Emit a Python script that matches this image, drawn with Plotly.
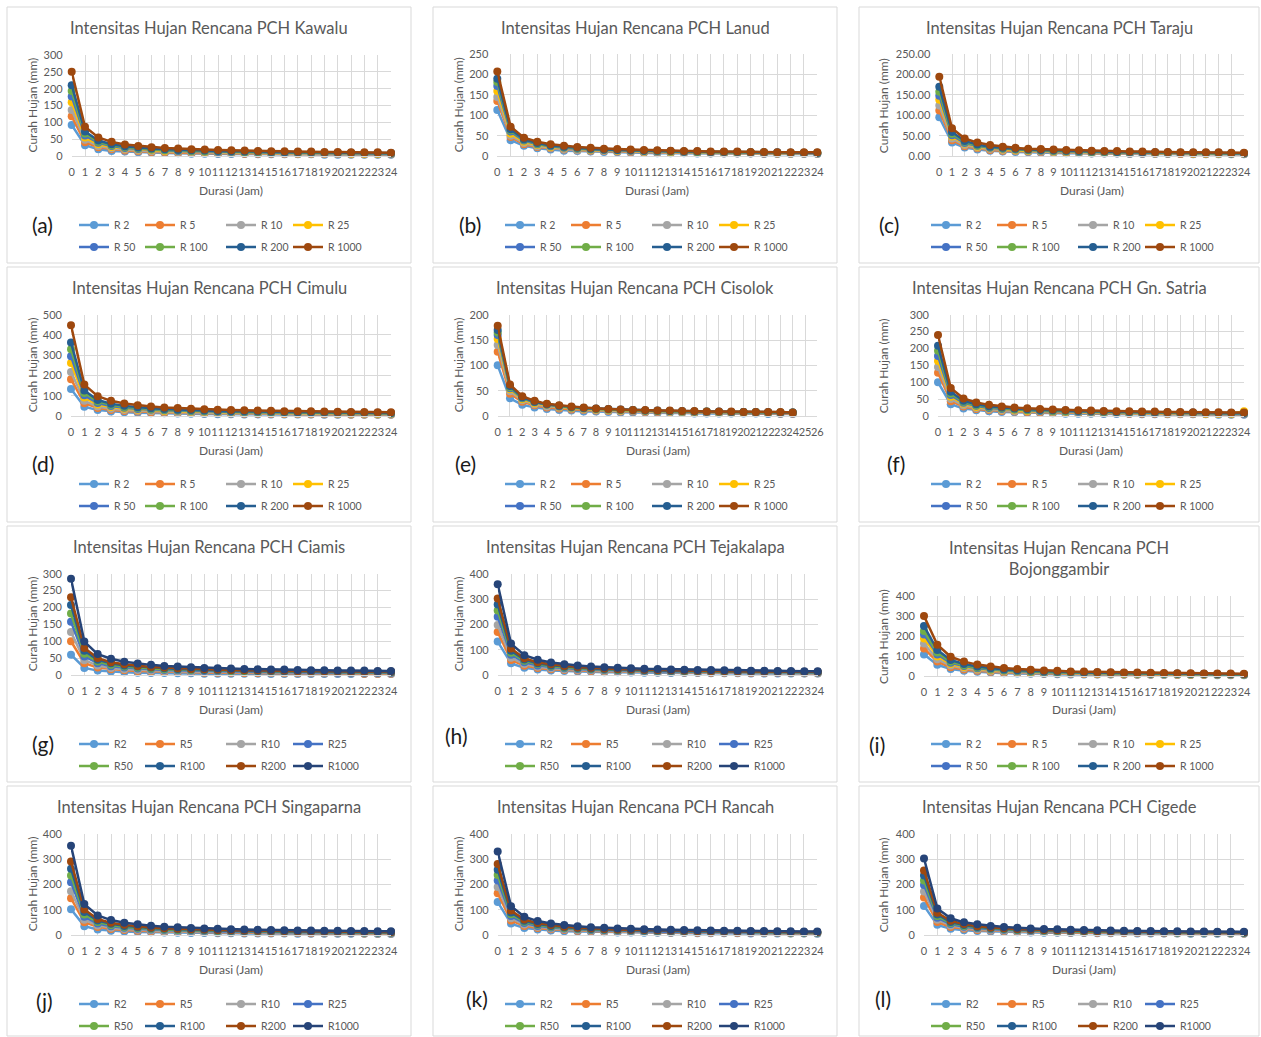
import plotly.graph_objects as go

FONT = "Lato"
TXT = "#595959"
GRID = "#D9D9D9"
W, H = 1261, 1037

hours = list(range(27))
names_a = ["R 2", "R 5", "R 10", "R 25", "R 50", "R 100", "R 200", "R 1000"]
names_b = ["R2", "R5", "R10", "R25", "R50", "R100", "R200", "R1000"]
colors_a = ["#5B9BD5", "#ED7D31", "#A5A5A5", "#FFC000", "#4472C4", "#70AD47", "#255E91", "#9E480E"]
colors_b = ["#5B9BD5", "#ED7D31", "#A5A5A5", "#4472C4", "#70AD47", "#255E91", "#9E480E", "#264478"]

kawalu = [
    [92, 32, 20, 15, 13, 11, 10, 9, 8, 7, 7, 6, 6, 6, 5, 5, 5, 5, 5, 4, 4, 4, 4, 4, 4],
    [118, 41, 26, 20, 16, 14, 12, 11, 10, 9, 9, 8, 8, 7, 7, 7, 6, 6, 6, 6, 6, 5, 5, 5, 5],
    [137, 48, 30, 23, 19, 16, 14, 13, 12, 11, 10, 10, 9, 9, 8, 8, 7, 7, 7, 7, 6, 6, 6, 6, 6],
    [160, 55, 35, 27, 22, 19, 17, 15, 14, 13, 12, 11, 11, 10, 10, 9, 9, 8, 8, 8, 8, 7, 7, 7, 7],
    [177, 61, 39, 30, 24, 21, 19, 17, 15, 14, 13, 12, 12, 11, 11, 10, 10, 9, 9, 9, 8, 8, 8, 8, 7],
    [193, 67, 42, 32, 27, 23, 20, 18, 17, 15, 14, 14, 13, 12, 12, 11, 11, 10, 10, 9, 9, 9, 9, 8, 8],
    [210, 73, 46, 35, 29, 25, 22, 20, 18, 17, 16, 15, 14, 13, 13, 12, 11, 11, 11, 10, 10, 10, 9, 9, 9],
    [250, 87, 55, 42, 34, 30, 26, 24, 22, 20, 19, 18, 17, 16, 15, 14, 14, 13, 13, 12, 12, 11, 11, 11, 10],
]
lanud = [
    [113, 39, 25, 19, 16, 13, 12, 11, 10, 9, 8, 8, 7, 7, 7, 6, 6, 6, 6, 6, 5, 5, 5, 5, 5],
    [135, 47, 29, 22, 19, 16, 14, 13, 12, 11, 10, 9, 9, 8, 8, 8, 7, 7, 7, 7, 6, 6, 6, 6, 6],
    [145, 50, 32, 24, 20, 17, 15, 14, 13, 12, 11, 10, 10, 9, 9, 8, 8, 8, 7, 7, 7, 7, 6, 6, 6],
    [160, 55, 35, 27, 22, 19, 17, 15, 14, 13, 12, 11, 11, 10, 10, 9, 9, 8, 8, 8, 8, 7, 7, 7, 7],
    [172, 60, 38, 29, 24, 20, 18, 16, 15, 14, 13, 12, 11, 11, 10, 10, 9, 9, 9, 8, 8, 8, 8, 7, 7],
    [182, 63, 40, 30, 25, 22, 19, 17, 16, 15, 14, 13, 12, 11, 11, 10, 10, 10, 9, 9, 9, 8, 8, 8, 8],
    [190, 66, 41, 32, 26, 23, 20, 18, 16, 15, 14, 13, 13, 12, 11, 11, 10, 10, 10, 9, 9, 9, 8, 8, 8],
    [208, 72, 45, 35, 29, 25, 22, 20, 18, 17, 16, 15, 14, 13, 12, 12, 11, 11, 11, 10, 10, 9, 9, 9, 9],
]
taraju = [
    [95, 33, 21, 16, 13, 11, 10, 9, 8, 8, 7, 7, 6, 6, 6, 5, 5, 5, 5, 5, 4, 4, 4, 4, 4],
    [112, 39, 24, 19, 15, 13, 12, 11, 10, 9, 8, 8, 7, 7, 7, 6, 6, 6, 6, 5, 5, 5, 5, 5, 5],
    [124, 43, 27, 21, 17, 15, 13, 12, 11, 10, 9, 9, 8, 8, 7, 7, 7, 7, 6, 6, 6, 6, 5, 5, 5],
    [138, 48, 30, 23, 19, 16, 14, 13, 12, 11, 10, 10, 9, 9, 8, 8, 8, 7, 7, 7, 6, 6, 6, 6, 6],
    [148, 51, 32, 25, 20, 18, 16, 14, 13, 12, 11, 10, 10, 9, 9, 8, 8, 8, 7, 7, 7, 7, 7, 6, 6],
    [158, 55, 35, 26, 22, 19, 17, 15, 14, 13, 12, 11, 10, 10, 9, 9, 9, 8, 8, 8, 7, 7, 7, 7, 7],
    [170, 59, 37, 28, 23, 20, 18, 16, 15, 14, 13, 12, 11, 11, 10, 10, 9, 9, 9, 8, 8, 8, 8, 7, 7],
    [195, 68, 43, 33, 27, 23, 20, 18, 17, 16, 15, 14, 13, 12, 12, 11, 11, 10, 10, 9, 9, 9, 9, 8, 8],
]
cimulu = [
    [133, 46, 29, 22, 18, 16, 14, 13, 12, 11, 10, 9, 9, 8, 8, 8, 7, 7, 7, 6, 6, 6, 6, 6, 6],
    [182, 63, 40, 30, 25, 22, 19, 17, 16, 15, 14, 13, 12, 11, 11, 10, 10, 10, 9, 9, 9, 8, 8, 8, 8],
    [217, 75, 47, 36, 30, 26, 23, 21, 19, 17, 16, 15, 14, 14, 13, 12, 12, 11, 11, 11, 10, 10, 10, 9, 9],
    [262, 91, 57, 44, 36, 31, 28, 25, 23, 21, 20, 18, 17, 16, 16, 15, 14, 14, 13, 13, 12, 12, 12, 11, 11],
    [295, 102, 64, 49, 41, 35, 31, 28, 26, 24, 22, 21, 20, 18, 18, 17, 16, 15, 15, 14, 14, 13, 13, 13, 12],
    [330, 114, 72, 55, 45, 39, 35, 31, 29, 26, 25, 23, 22, 21, 20, 19, 18, 17, 17, 16, 16, 15, 15, 14, 14],
    [363, 126, 79, 61, 50, 43, 38, 34, 31, 29, 27, 25, 24, 23, 22, 21, 20, 19, 18, 18, 17, 17, 16, 16, 15],
    [448, 155, 98, 75, 62, 53, 47, 42, 39, 36, 33, 31, 30, 28, 27, 26, 24, 24, 23, 22, 21, 20, 20, 19, 19],
]
cisolok = [
    [100, 35, 22, 17, 14, 12, 11, 9, 9, 8, 7, 7, 7, 6, 6, 6, 5, 5, 5, 5, 5, 5, 4, 4, 4],
    [127, 44, 28, 21, 17, 15, 13, 12, 11, 10, 9, 9, 8, 8, 8, 7, 7, 7, 6, 6, 6, 6, 6, 5, 5],
    [140, 49, 31, 23, 19, 17, 15, 13, 12, 11, 10, 10, 9, 9, 8, 8, 8, 7, 7, 7, 7, 6, 6, 6, 6],
    [152, 53, 33, 25, 21, 18, 16, 14, 13, 12, 11, 11, 10, 10, 9, 9, 8, 8, 8, 7, 7, 7, 7, 7, 6],
    [160, 55, 35, 27, 22, 19, 17, 15, 14, 13, 12, 11, 11, 10, 10, 9, 9, 8, 8, 8, 8, 7, 7, 7, 7],
    [165, 57, 36, 28, 23, 20, 17, 16, 14, 13, 12, 12, 11, 10, 10, 9, 9, 9, 8, 8, 8, 8, 7, 7, 7],
    [170, 59, 37, 28, 23, 20, 18, 16, 15, 14, 13, 12, 11, 11, 10, 10, 9, 9, 9, 8, 8, 8, 8, 7, 7],
    [178, 62, 39, 30, 24, 21, 19, 17, 15, 14, 13, 12, 12, 11, 11, 10, 10, 9, 9, 9, 8, 8, 8, 8, 7],
]
satria = [
    [100, 35, 22, 17, 14, 12, 11, 9, 9, 8, 7, 7, 7, 6, 6, 6, 5, 5, 5, 5, 5, 5, 4, 4, 4],
    [128, 44, 28, 21, 18, 15, 13, 12, 11, 10, 10, 9, 8, 8, 8, 7, 7, 7, 6, 6, 6, 6, 6, 5, 5],
    [145, 50, 32, 24, 20, 17, 15, 14, 13, 12, 11, 10, 10, 9, 9, 8, 8, 8, 7, 7, 7, 7, 6, 6, 6],
    [163, 57, 36, 27, 22, 19, 17, 15, 14, 13, 12, 11, 11, 10, 10, 9, 9, 9, 8, 8, 8, 7, 7, 7, 14],
    [178, 62, 39, 30, 24, 21, 19, 17, 15, 14, 13, 12, 12, 11, 11, 10, 10, 9, 9, 9, 8, 8, 8, 8, 7],
    [193, 67, 42, 32, 27, 23, 20, 18, 17, 15, 14, 14, 13, 12, 12, 11, 11, 10, 10, 9, 9, 9, 9, 8, 8],
    [208, 72, 45, 35, 29, 25, 22, 20, 18, 17, 16, 15, 14, 13, 12, 12, 11, 11, 11, 10, 10, 9, 9, 9, 9],
    [240, 83, 52, 40, 33, 28, 25, 23, 21, 19, 18, 17, 16, 15, 14, 14, 13, 13, 12, 12, 11, 11, 11, 10, 10],
]
ciamis = [
    [60, 21, 13, 10, 8, 7, 6, 6, 5, 5, 4, 4, 4, 4, 4, 3, 3, 3, 3, 3, 3, 3, 3, 3, 3],
    [100, 35, 22, 17, 14, 12, 11, 9, 9, 8, 7, 7, 7, 6, 6, 6, 5, 5, 5, 5, 5, 5, 4, 4, 4],
    [127, 44, 28, 21, 17, 15, 13, 12, 11, 10, 9, 9, 8, 8, 8, 7, 7, 7, 6, 6, 6, 6, 6, 5, 5],
    [158, 55, 35, 26, 22, 19, 17, 15, 14, 13, 12, 11, 10, 10, 9, 9, 9, 8, 8, 8, 7, 7, 7, 7, 7],
    [182, 63, 40, 30, 25, 22, 19, 17, 16, 15, 14, 13, 12, 11, 11, 10, 10, 10, 9, 9, 9, 8, 8, 8, 8],
    [207, 72, 45, 35, 28, 25, 22, 20, 18, 17, 15, 15, 14, 13, 12, 12, 11, 11, 10, 10, 10, 9, 9, 9, 9],
    [230, 80, 50, 38, 32, 27, 24, 22, 20, 18, 17, 16, 15, 14, 14, 13, 13, 12, 12, 11, 11, 10, 10, 10, 10],
    [285, 99, 62, 48, 39, 34, 30, 27, 25, 23, 21, 20, 19, 18, 17, 16, 16, 15, 14, 14, 13, 13, 13, 12, 12],
]
tejakalapa = [
    [132, 46, 29, 22, 18, 16, 14, 13, 11, 11, 10, 9, 9, 8, 8, 8, 7, 7, 7, 6, 6, 6, 6, 6, 6],
    [170, 59, 37, 28, 23, 20, 18, 16, 15, 14, 13, 12, 11, 11, 10, 10, 9, 9, 9, 8, 8, 8, 8, 7, 7],
    [197, 68, 43, 33, 27, 23, 21, 19, 17, 16, 15, 14, 13, 12, 12, 11, 11, 10, 10, 10, 9, 9, 9, 8, 8],
    [230, 80, 50, 38, 32, 27, 24, 22, 20, 18, 17, 16, 15, 14, 14, 13, 13, 12, 12, 11, 11, 10, 10, 10, 10],
    [255, 88, 56, 43, 35, 30, 27, 24, 22, 20, 19, 18, 17, 16, 15, 15, 14, 13, 13, 12, 12, 12, 11, 11, 11],
    [278, 96, 61, 46, 38, 33, 29, 26, 24, 22, 21, 19, 18, 17, 17, 16, 15, 15, 14, 14, 13, 13, 12, 12, 12],
    [302, 105, 66, 50, 42, 36, 32, 29, 26, 24, 23, 21, 20, 19, 18, 17, 16, 16, 15, 15, 14, 14, 13, 13, 13],
    [358, 124, 78, 60, 49, 42, 38, 34, 31, 29, 27, 25, 24, 22, 21, 20, 20, 19, 18, 17, 17, 16, 16, 15, 15],
]
bojonggambir = [
    [108, 56, 35, 26, 21, 17, 14, 13, 11, 10, 9, 8, 8, 7, 7, 6, 6, 6, 5, 5, 5, 5, 4, 4, 4],
    [138, 72, 44, 33, 26, 21, 18, 16, 14, 13, 12, 11, 10, 9, 9, 8, 8, 7, 7, 6, 6, 6, 6, 5, 5],
    [162, 84, 52, 39, 31, 25, 21, 19, 17, 15, 14, 13, 12, 11, 10, 10, 9, 9, 8, 8, 7, 7, 7, 6, 6],
    [188, 98, 60, 45, 36, 29, 25, 22, 19, 17, 16, 15, 14, 13, 12, 11, 11, 10, 9, 9, 8, 8, 8, 7, 7],
    [207, 108, 66, 50, 39, 32, 27, 24, 21, 19, 18, 16, 15, 14, 13, 12, 12, 11, 10, 10, 9, 9, 8, 8, 8],
    [225, 117, 72, 54, 43, 35, 30, 26, 23, 21, 19, 18, 16, 15, 14, 13, 13, 12, 11, 11, 10, 10, 9, 9, 8],
    [250, 130, 80, 60, 48, 39, 33, 29, 26, 23, 21, 20, 18, 17, 16, 15, 14, 13, 13, 12, 11, 11, 10, 10, 9],
    [300, 156, 96, 72, 57, 47, 40, 35, 31, 28, 26, 23, 22, 20, 19, 18, 17, 16, 15, 14, 14, 13, 12, 12, 11],
]
singaparna = [
    [102, 35, 22, 17, 14, 12, 11, 10, 9, 8, 8, 7, 7, 6, 6, 6, 6, 5, 5, 5, 5, 5, 5, 4, 4],
    [145, 50, 32, 24, 20, 17, 15, 14, 13, 12, 11, 10, 10, 9, 9, 8, 8, 8, 7, 7, 7, 7, 6, 6, 6],
    [173, 60, 38, 29, 24, 21, 18, 16, 15, 14, 13, 12, 11, 11, 10, 10, 9, 9, 9, 8, 8, 8, 8, 7, 7],
    [208, 72, 45, 35, 29, 25, 22, 20, 18, 17, 16, 15, 14, 13, 12, 12, 11, 11, 11, 10, 10, 9, 9, 9, 9],
    [235, 81, 51, 39, 32, 28, 25, 22, 20, 19, 18, 16, 16, 15, 14, 13, 13, 12, 12, 11, 11, 11, 10, 10, 10],
    [262, 91, 57, 44, 36, 31, 28, 25, 23, 21, 20, 18, 17, 16, 16, 15, 14, 14, 13, 13, 12, 12, 12, 11, 11],
    [290, 101, 63, 48, 40, 34, 30, 27, 25, 23, 22, 20, 19, 18, 17, 17, 16, 15, 15, 14, 14, 13, 13, 12, 12],
    [352, 122, 77, 59, 48, 42, 37, 33, 31, 28, 26, 25, 23, 22, 21, 20, 19, 18, 18, 17, 17, 16, 16, 15, 15],
]
rancah = [
    [130, 45, 28, 22, 18, 15, 14, 12, 11, 10, 10, 9, 9, 8, 8, 7, 7, 7, 7, 6, 6, 6, 6, 6, 5],
    [165, 57, 36, 28, 23, 20, 17, 16, 14, 13, 12, 12, 11, 10, 10, 9, 9, 9, 8, 8, 8, 8, 7, 7, 7],
    [190, 66, 41, 32, 26, 23, 20, 18, 16, 15, 14, 13, 13, 12, 11, 11, 10, 10, 10, 9, 9, 9, 8, 8, 8],
    [215, 75, 47, 36, 30, 26, 23, 20, 19, 17, 16, 15, 14, 13, 13, 12, 12, 11, 11, 10, 10, 10, 10, 9, 9],
    [237, 82, 52, 40, 33, 28, 25, 22, 21, 19, 18, 17, 16, 15, 14, 14, 13, 12, 12, 12, 11, 11, 10, 10, 10],
    [258, 89, 56, 43, 36, 31, 27, 24, 22, 21, 19, 18, 17, 16, 15, 15, 14, 14, 13, 13, 12, 12, 11, 11, 11],
    [280, 97, 61, 47, 39, 33, 29, 27, 24, 22, 21, 20, 19, 18, 17, 16, 15, 15, 14, 14, 13, 13, 12, 12, 12],
    [330, 114, 72, 55, 45, 39, 35, 31, 29, 26, 25, 23, 22, 21, 20, 19, 18, 17, 17, 16, 16, 15, 15, 14, 14],
]
cigede = [
    [115, 40, 25, 19, 16, 14, 12, 11, 10, 9, 9, 8, 8, 7, 7, 7, 6, 6, 6, 6, 5, 5, 5, 5, 5],
    [148, 51, 32, 25, 20, 18, 16, 14, 13, 12, 11, 10, 10, 9, 9, 8, 8, 8, 7, 7, 7, 7, 7, 6, 6],
    [172, 60, 38, 29, 24, 20, 18, 16, 15, 14, 13, 12, 11, 11, 10, 10, 9, 9, 9, 8, 8, 8, 8, 7, 7],
    [197, 68, 43, 33, 27, 23, 21, 19, 17, 16, 15, 14, 13, 12, 12, 11, 11, 10, 10, 10, 9, 9, 9, 8, 8],
    [215, 75, 47, 36, 30, 26, 23, 20, 19, 17, 16, 15, 14, 13, 13, 12, 12, 11, 11, 10, 10, 10, 10, 9, 9],
    [235, 81, 51, 39, 32, 28, 25, 22, 20, 19, 18, 16, 16, 15, 14, 13, 13, 12, 12, 11, 11, 11, 10, 10, 10],
    [255, 88, 56, 43, 35, 30, 27, 24, 22, 20, 19, 18, 17, 16, 15, 15, 14, 13, 13, 12, 12, 12, 11, 11, 11],
    [302, 105, 66, 50, 42, 36, 32, 29, 26, 24, 23, 21, 20, 19, 18, 17, 16, 16, 15, 15, 14, 14, 13, 13, 13],
]

titles = [
    "Intensitas Hujan Rencana PCH Kawalu",
    "Intensitas Hujan Rencana PCH Lanud",
    "Intensitas Hujan Rencana PCH Taraju",
    "Intensitas Hujan Rencana PCH Cimulu",
    "Intensitas Hujan Rencana PCH Cisolok",
    "Intensitas Hujan Rencana PCH Gn. Satria",
    "Intensitas Hujan Rencana PCH Ciamis",
    "Intensitas Hujan Rencana PCH Tejakalapa",
    "Intensitas Hujan Rencana PCH<br>Bojonggambir",
    "Intensitas Hujan Rencana PCH Singaparna",
    "Intensitas Hujan Rencana PCH Rancah",
    "Intensitas Hujan Rencana PCH Cigede",
]
labels = ["(a)", "(b)", "(c)", "(d)", "(e)", "(f)", "(g)", "(h)", "(i)", "(j)", "(k)", "(l)"]
series = [kawalu, lanud, taraju, cimulu, cisolok, satria, ciamis, tejakalapa,
          bojonggambir, singaparna, rancah, cigede]
palette_b = [False, False, False, False, False, False, True, True, False, True, True, True]
ymax = [300, 250, 250, 500, 200, 300, 300, 400, 400, 400, 400, 400]
ydtick = [50, 50, 50, 100, 50, 50, 50, 100, 100, 100, 100, 100]
xmax = [24, 24, 24, 24, 26, 24, 24, 24, 24, 24, 24, 24]
yfmt = ["", "", ".2f", "", "", "", "", "", "", "", "", ""]
x_title = "Durasi (Jam)"
y_title = "Curah Hujan (mm)"

# ---------- geometry (pixels) ----------
plot_px = [
    (71.7, 391, 55, 156), (497.3, 817.3, 54.3, 156), (939.3, 1244, 54.3, 156),
    (71, 391, 314.7, 416), (497.7, 817.3, 314.7, 416), (938, 1244, 314.7, 416),
    (71, 391, 573.7, 675), (497.7, 817.7, 573.7, 675), (924, 1244, 596, 676),
    (71, 391, 833.7, 935), (497.7, 817.3, 833.7, 935), (924, 1244, 833.7, 935),
]
box_cols = [(7, 411), (433, 837), (859, 1259)]
box_rows = [(7, 263), (267, 522), (526, 782), (786, 1036)]
title_y = [28, 288, 547, 807]
xtitle_y = [190, 450, 709, 969]
ytitle_x = [32, 458, 883]
legend_rows = [(225, 247), (484, 506), (744, 766), (1004, 1026)]
legend_cols = [90, 156, 237, 304]
label_pos = [(43, 224), (470, 224), (889, 224), (43, 463), (465, 463), (896, 463),
             (43, 743), (456, 735), (877, 744), (44, 1000), (477, 998), (883, 998)]


def px_x(v):
    return v / W


def px_y(v):
    return 1 - v / H


fig = go.Figure()
layout = dict(
    width=W, height=H, autosize=False,
    margin=dict(l=0, r=0, t=0, b=0, pad=0, autoexpand=False),
    paper_bgcolor="white", plot_bgcolor="white",
    font=dict(family=FONT, color=TXT),
    showlegend=True,
)
annotations = []
shapes = []
leg_count = 0

for p in range(12):
    row, col = divmod(p, 3)
    xl, xr, yt, yb = plot_px[p]
    xa = "xaxis" if p == 0 else f"xaxis{p + 1}"
    ya = "yaxis" if p == 0 else f"yaxis{p + 1}"
    xref = "x" if p == 0 else f"x{p + 1}"
    yref = "y" if p == 0 else f"y{p + 1}"
    ticks_x = list(range(xmax[p] + 1))
    layout[xa] = dict(
        domain=[px_x(xl), px_x(xr)], anchor=yref, range=[0, xmax[p]],
        tickmode="array", tickvals=ticks_x, ticktext=[str(t) for t in ticks_x],
        tickangle=0, automargin=False,
        showgrid=True, gridcolor=GRID, gridwidth=1, zeroline=False,
        showline=True, linecolor=GRID, linewidth=1, ticks="",
        tickfont=dict(size=11, color=TXT, family=FONT), ticklabelstandoff=6,
        fixedrange=True,
    )
    layout[ya] = dict(
        domain=[px_y(yb), px_y(yt)], anchor=xref, range=[0, ymax[p]],
        dtick=ydtick[p], tick0=0, tickformat=yfmt[p], automargin=False,
        showgrid=True, gridcolor=GRID, gridwidth=1, zeroline=False,
        showline=False, ticks="",
        tickfont=dict(size=11, color=TXT, family=FONT), ticklabelstandoff=8,
        fixedrange=True,
    )
    names = names_b if palette_b[p] else names_a
    colors = colors_b if palette_b[p] else colors_a
    for s, vals in enumerate(series[p]):
        leg_count += 1
        lkey = "legend" if leg_count == 1 else f"legend{leg_count}"
        lr = legend_rows[row][s // 4]
        lc = box_cols[col][0] + legend_cols[s % 4] - 23
        layout[lkey] = dict(
            x=px_x(lc), y=px_y(lr), xanchor="left", yanchor="middle",
            xref="paper", yref="paper",
            bgcolor="rgba(0,0,0,0)", borderwidth=0, itemwidth=30,
            font=dict(size=10.5, color=TXT, family=FONT),
        )
        fig.add_trace(go.Scatter(
            x=hours[:len(vals)], y=vals, name=names[s], mode="lines+markers",
            line=dict(color=colors[s], width=2.5),
            marker=dict(color=colors[s], size=8, symbol="circle", line=dict(width=0)),
            xaxis=xref, yaxis=yref, legend=lkey, cliponaxis=False,
            hoverinfo="x+y+name",
        ))
    # panel frame
    bx0, bx1 = box_cols[col]
    by0, by1 = box_rows[row]
    shapes.append(dict(type="rect", xref="paper", yref="paper",
                       x0=px_x(bx0), x1=px_x(bx1), y0=px_y(by1), y1=px_y(by0),
                       line=dict(color=GRID, width=1), fillcolor="rgba(0,0,0,0)",
                       layer="below"))
    # title
    ty = title_y[row] + (11 if p == 8 else 0)
    annotations.append(dict(text=titles[p], xref="paper", yref="paper",
                            x=px_x((bx0 + bx1) / 2), y=px_y(ty),
                            xanchor="center", yanchor="middle", showarrow=False,
                            font=dict(size=16.5, color=TXT, family=FONT)))
    # axis titles
    annotations.append(dict(text=x_title, xref="paper", yref="paper",
                            x=px_x((xl + xr) / 2),
                            y=px_y(xtitle_y[row]), xanchor="center", yanchor="middle",
                            showarrow=False, font=dict(size=12, color=TXT, family=FONT)))
    annotations.append(dict(text=y_title, xref="paper", yref="paper",
                            x=px_x(ytitle_x[col]), y=px_y((yt + yb) / 2), textangle=-90,
                            xanchor="center", yanchor="middle", showarrow=False,
                            font=dict(size=12, color=TXT, family=FONT)))
    # panel label
    lx, ly = label_pos[p]
    annotations.append(dict(text=labels[p], xref="paper", yref="paper",
                            x=px_x(lx), y=px_y(ly), xanchor="center", yanchor="middle",
                            showarrow=False, font=dict(size=21, color="#1a1a1a", family=FONT)))

layout["annotations"] = annotations
layout["shapes"] = shapes
fig.update_layout(**layout)
fig.write_html(
    "out.html",
    config={"displayModeBar": False},
    post_script="document.body.style.margin='0';document.body.style.padding='0';"
                "document.body.style.overflow='hidden';",
)
